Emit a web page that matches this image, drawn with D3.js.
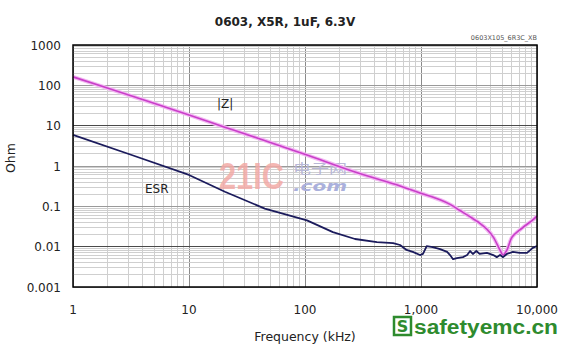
<!DOCTYPE html>
<html>
<head>
<meta charset="utf-8">
<script src="https://cdn.jsdelivr.net/npm/d3@7"></script>
<style>
  body{margin:0;background:#fff;}
  svg{display:block;font-family:"DejaVu Sans",sans-serif;}
</style>
</head>
<body>
<svg id="chart" width="570" height="351"></svg>
<script>
// values (frequency in kHz, impedance in ohm)
const zFreq=[1,3.16,10,20,41,104,270,660,980,1460,1800,2150,2600,3200,3700,4200,4800,5100,5500,6100,7100,9200,10000];
const zVal=[162,55,18.5,9.3,4.7,1.87,0.71,0.32,0.214,0.145,0.11,0.08,0.057,0.0385,0.027,0.0173,0.0082,0.0062,0.0082,0.0173,0.026,0.046,0.057];
const esrFreq=[1,3.16,10,20.4,45,104,174,270,417,575,660,750,850,980,1040,1120,1260,1460,1680,1780,1890,2040,2300,2500,2650,2800,3000,3200,3700,4200,4500,4800,5100,5500,6200,7100,8200,9200,10000];
const esrVal=[5.9,1.9,0.6,0.23,0.088,0.045,0.023,0.0155,0.013,0.0123,0.011,0.0083,0.0074,0.0062,0.0066,0.0103,0.0098,0.0087,0.0074,0.0062,0.0049,0.0052,0.0055,0.0062,0.0078,0.0066,0.0078,0.0066,0.0070,0.0062,0.0055,0.0062,0.0055,0.0066,0.0074,0.0070,0.0070,0.0093,0.0104];
const xTicks=[1,10,100,1000,10000];
const xTickLabels=["1","10","100","1,000","10,000"];
const yTicks=[0.001,0.01,0.1,1,10,100,1000];
const yTickLabels=["0.001","0.01","0.1","1","10","100","1000"];

const svg=d3.select("#chart");
const L=73,R=537,T=45,B=287;
const x=d3.scaleLog().domain([1,10000]).range([L,R]);
const y=d3.scaleLog().domain([0.001,1000]).range([B,T]);

// grid
const g=svg.append("g");
g.selectAll(".vx").data(x.ticks()).enter().append("line")
  .attr("x1",d=>x(d)).attr("x2",d=>x(d)).attr("y1",T).attr("y2",B)
  .attr("stroke",d=>xTicks.includes(d)?"#8a8a8a":"#cfcfcf").attr("stroke-width",1)
  .attr("shape-rendering","crispEdges");
g.selectAll(".hy").data(y.ticks()).enter().append("line")
  .attr("x1",L).attr("x2",R).attr("y1",d=>y(d)).attr("y2",d=>y(d))
  .attr("stroke",d=>(d===10||d===0.01)?"#4a4a4a":(yTicks.includes(d)?"#9a9a9a":"#cfcfcf"))
  .attr("stroke-width",1)
  .attr("shape-rendering","crispEdges");

// watermark 21IC
const wm=svg.append("g");
wm.append("text").attr("x",219).attr("y",189).attr("font-family","'Liberation Sans',Arial,sans-serif")
  .attr("font-weight","bold").attr("font-size",36).attr("fill","#f2aaa6").attr("fill-opacity",0.85)
  .attr("textLength",65).attr("lengthAdjust","spacingAndGlyphs").text("21IC");
wm.append("text").attr("x",293).attr("y",173).attr("font-family","'Noto Sans CJK SC',sans-serif")
  .attr("font-size",13).attr("fill","#b8b8d6").attr("textLength",54).attr("lengthAdjust","spacingAndGlyphs").text("电子网");
wm.append("text").attr("x",293).attr("y",191).attr("font-family","'DejaVu Sans',sans-serif")
  .attr("font-weight","bold").attr("font-style","italic").attr("font-size",14).attr("fill","#aab0dc")
  .attr("textLength",54).attr("lengthAdjust","spacingAndGlyphs").text(".com");

// curves
const zLine=d3.line().x(d=>x(d[0])).y(d=>y(d[1])).curve(d3.curveCatmullRom.alpha(0.5));
const line=d3.line().x(d=>x(d[0])).y(d=>y(d[1]));
const zData=zFreq.map((f,i)=>[f,zVal[i]]);
const esrData=esrFreq.map((f,i)=>[f,esrVal[i]]);
svg.append("path").datum(zData).attr("d",zLine).attr("fill","none")
  .attr("stroke","#f2b8f2").attr("stroke-width",4).attr("stroke-linejoin","round");
svg.append("path").datum(zData).attr("d",zLine).attr("fill","none")
  .attr("stroke","#c93fc9").attr("stroke-width",1.6).attr("stroke-linejoin","round");
svg.append("path").datum(esrData).attr("d",line).attr("fill","none")
  .attr("stroke","#1b1b5c").attr("stroke-width",1.8).attr("stroke-linejoin","round");

// frame
svg.append("rect").attr("x",L).attr("y",T).attr("width",R-L).attr("height",B-T)
  .attr("fill","none").attr("stroke","#000").attr("stroke-width",1.5);

// tick labels
svg.selectAll(".yl").data(yTicks).enter().append("text")
  .attr("x",61).attr("y",d=>y(d)+4.5).attr("text-anchor","end")
  .attr("font-size",12).attr("fill","#222").text((d,i)=>yTickLabels[i]);
svg.selectAll(".xl").data(xTicks).enter().append("text")
  .attr("x",d=>x(d)).attr("y",314).attr("text-anchor","middle")
  .attr("font-size",12).attr("fill","#222").text((d,i)=>xTickLabels[i]);

// titles
svg.append("text").attr("x",285).attr("y",26).attr("text-anchor","middle")
  .attr("font-weight","bold").attr("font-size",12).attr("fill","#222").text("0603, X5R, 1uF, 6.3V");
svg.append("text").attr("x",537).attr("y",40).attr("text-anchor","end")
  .attr("font-size",6.5).attr("fill","#555").text("0603X105_6R3C_XB");
svg.append("text").attr("x",305).attr("y",341).attr("text-anchor","middle")
  .attr("font-size",12.5).attr("fill","#222").text("Frequency (kHz)");
svg.append("text").attr("transform","translate(15,158) rotate(-90)").attr("text-anchor","middle")
  .attr("font-size",12.5).attr("fill","#222").text("Ohm");
svg.append("text").attr("x",217).attr("y",108).attr("font-size",12).attr("fill","#222").text("|Z|");
svg.append("text").attr("x",145).attr("y",193).attr("font-size",12).attr("fill","#222").text("ESR");

// safetyemc watermark
const sw=svg.append("g");
sw.append("rect").attr("x",394).attr("y",317).attr("width",17).attr("height",18)
  .attr("fill","#fff").attr("stroke","#2e8b2e").attr("stroke-width",2.5);
sw.append("text").attr("x",402.5).attr("y",332).attr("text-anchor","middle")
  .attr("font-weight","bold").attr("font-size",16).attr("fill","#2e8b2e").text("S");
sw.append("text").attr("x",414).attr("y",334).attr("font-family","'Liberation Sans',Arial,sans-serif")
  .attr("font-weight","bold").attr("font-size",20).attr("fill","#2e8b2e")
  .attr("textLength",144).attr("lengthAdjust","spacingAndGlyphs").text("safetyemc.cn");
</script>
</body>
</html>
